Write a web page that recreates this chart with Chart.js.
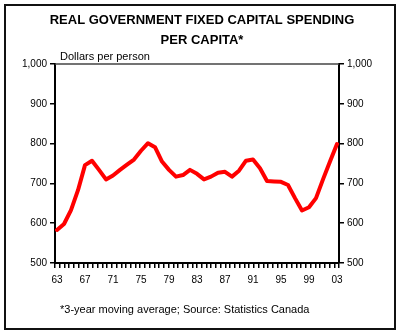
<!DOCTYPE html>
<html>
<head>
<meta charset="utf-8">
<script src="https://cdn.jsdelivr.net/npm/chart.js@4.4.1/dist/chart.umd.min.js"></script>
<style>
  html, body { margin: 0; padding: 0; background: #fff; }
  #wrap { position: relative; width: 404px; height: 336px; }
</style>
</head>
<body>
<div id="wrap"><canvas id="myChart"></canvas></div>
<script>
// Values (3-year moving average, dollars per person)
const years = [1963, 1964, 1965, 1966, 1967, 1968, 1969, 1970, 1971, 1972, 1973, 1974, 1975, 1976,
  1977, 1978, 1979, 1980, 1981, 1982, 1983, 1984, 1985, 1986, 1987, 1988, 1989, 1990,
  1991, 1992, 1993, 1994, 1995, 1996, 1997, 1998, 1999, 2000, 2001, 2002, 2003];
const spending = [583, 598, 633, 683, 746, 757, 734, 710, 720, 734, 747, 760, 782, 801,
  791, 755, 734, 717, 721, 734, 724, 710, 717, 727, 729, 717, 732, 757,
  760, 738, 706, 705, 704, 696, 663, 632, 640, 663, 710, 755, 799];

const labelYears = [1963, 1967, 1971, 1975, 1979, 1983, 1987, 1991, 1995, 1999, 2003];
const yearLabels = ["63", "67", "71", "75", "79", "83", "87", "91", "95", "99", "03"];
const yTicks = [500, 600, 700, 800, 900, 1000];

const titleLines = ["REAL GOVERNMENT FIXED CAPITAL SPENDING", "PER CAPITA*"];
const unitsText = "Dollars per person";
const footnote = "*3-year moving average; Source: Statistics Canada";

const FONT = "'Liberation Sans', Arial, sans-serif";
const xMin = 1963 - 2 / 7;
const xMax = 2003 + 2 / 7;

// frame, top rule and loose texts
const decorations = {
  id: "decorations",
  beforeDraw(chart) {
    const ctx = chart.ctx;
    ctx.save();
    ctx.fillStyle = "#fff";
    ctx.fillRect(0, 0, chart.width, chart.height);
    ctx.restore();
  },
  afterDraw(chart) {
    const { ctx, chartArea } = chart;
    ctx.save();
    // top line of the plot
    ctx.strokeStyle = "#444";
    ctx.lineWidth = 1.5;
    ctx.beginPath();
    ctx.moveTo(chartArea.left, chartArea.top);
    ctx.lineTo(chartArea.right, chartArea.top);
    ctx.stroke();
    // outer box
    ctx.strokeStyle = "#111";
    ctx.lineWidth = 2;
    ctx.strokeRect(5, 5, 390, 324);
    // texts
    ctx.fillStyle = "#000";
    ctx.font = "11px " + FONT;
    ctx.textAlign = "left";
    ctx.textBaseline = "alphabetic";
    ctx.fillText(unitsText, chartArea.left + 5, chartArea.top - 4);
    ctx.textBaseline = "middle";
    ctx.fillText(footnote, 60, 310);
    ctx.restore();
  }
};

const ctx = document.getElementById("myChart").getContext("2d");

new Chart(ctx, {
  type: "line",
  data: {
    datasets: [
      {
        label: "Spending",
        data: years.map((yr, i) => ({ x: yr, y: spending[i] })),
        borderColor: "#ff0000",
        borderWidth: 4,
        borderJoinStyle: "round",
        borderCapStyle: "round",
        pointRadius: 0,
        tension: 0,
        xAxisID: "x",
        yAxisID: "y",
      },
    ],
  },
  options: {
    responsive: true,
    maintainAspectRatio: false,
    animation: false,
    layout: { padding: 0 },
    plugins: {
      legend: { display: false },
      tooltip: { enabled: false },
      title: {
        display: true,
        text: titleLines,
        color: "#000",
        font: { family: FONT, size: 13, weight: "bold", lineHeight: 1.5 },
        padding: { top: 11, bottom: 14 },
      },
    },
    scales: {
      x: {
        type: "linear",
        position: "bottom",
        min: xMin,
        max: xMax,
        afterBuildTicks: (axis) => {
          axis.ticks = Array.from({ length: 61 }, (_, i) => ({ value: xMin + (i * (xMax - xMin)) / 60 }));
        },
        afterFit: (axis) => { axis.height = 6; },
        ticks: { display: false },
        grid: { drawOnChartArea: false, tickLength: 5, color: "#000", lineWidth: 1.5 },
        border: { color: "#000", width: 2 },
      },
      xLabels: {
        type: "linear",
        position: "bottom",
        min: xMin,
        max: xMax,
        afterBuildTicks: (axis) => {
          axis.ticks = labelYears.map((v) => ({ value: v }));
        },
        afterFit: (axis) => { axis.height = 67; },
        ticks: {
          autoSkip: false,
          maxRotation: 0,
          padding: 5,
          color: "#000",
          font: { family: FONT, size: 10 },
          callback: (value, index) => yearLabels[index],
        },
        grid: { display: false, drawTicks: false },
        border: { display: false },
      },
      y: {
        position: "left",
        min: 500,
        max: 1000,
        afterBuildTicks: (axis) => {
          axis.ticks = yTicks.map((v) => ({ value: v }));
        },
        afterFit: (axis) => { axis.width = 55; },
        ticks: {
          padding: 3,
          color: "#000",
          font: { family: FONT, size: 10 },
          callback: (v) => v.toLocaleString("en-US"),
        },
        grid: { drawOnChartArea: false, tickLength: 5, color: "#000", lineWidth: 1.5 },
        border: { color: "#000", width: 2 },
      },
      y2: {
        position: "right",
        min: 500,
        max: 1000,
        afterBuildTicks: (axis) => {
          axis.ticks = yTicks.map((v) => ({ value: v }));
        },
        afterFit: (axis) => { axis.width = 65; },
        ticks: {
          padding: 3,
          color: "#000",
          font: { family: FONT, size: 10 },
          callback: (v) => v.toLocaleString("en-US"),
        },
        grid: { drawOnChartArea: false, tickLength: 5, color: "#000", lineWidth: 1.5 },
        border: { color: "#000", width: 2 },
      },
    },
  },
  plugins: [decorations],
});
</script>
</body>
</html>
